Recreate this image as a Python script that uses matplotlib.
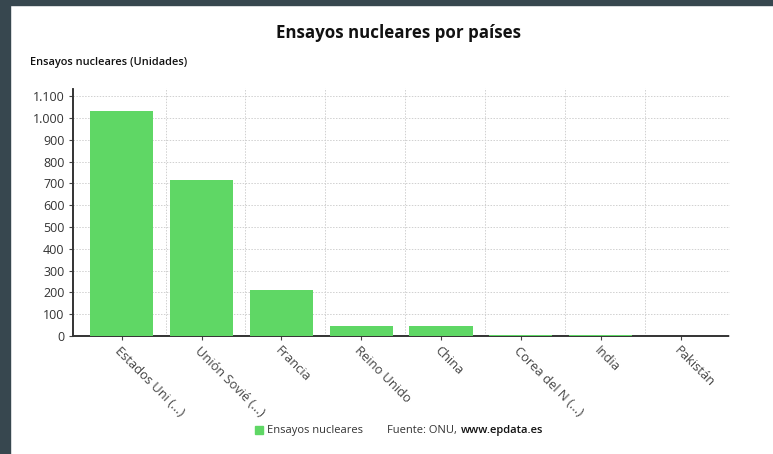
import matplotlib.pyplot as plt
from matplotlib.patches import Rectangle

plt.rcParams['font.family'] = ['Open Sans', 'DejaVu Sans']

paises = ["Estados Uni (...)", "Unión Sovié (...)", "Francia", "Reino Unido",
          "China", "Corea del N (...)", "India", "Pakistán"]
ensayos = [1032, 715, 210, 45, 45, 6, 3, 2]
yticks = [0, 100, 200, 300, 400, 500, 600, 700, 800, 900, 1000, 1100]
ytick_labels = ["0", "100", "200", "300", "400", "500", "600", "700", "800",
                "900", "1.000", "1.100"]

verde = "#5fd765"

fig = plt.figure(figsize=(7.73, 4.54), dpi=100)
# dark frame on left/top
fig.patches.append(Rectangle((0, 0), 10/773, 1, transform=fig.transFigure,
                             color="#37474f", zorder=0))
fig.patches.append(Rectangle((0, 1 - 5/454), 1, 5/454, transform=fig.transFigure,
                             color="#37474f", zorder=0))

ax = fig.add_axes([73/773, 1 - 336/454, (730 - 73)/773, (336 - 88)/454])
x = list(range(len(paises)))
ax.bar(x, ensayos, width=0.79, color=verde, zorder=3)

ax.set_xlim(-0.61, 7.62)
ax.set_ylim(0, 1137)
ax.set_yticks(yticks)
ax.set_yticklabels(ytick_labels, fontsize=9, color="#333333")
ax.set_xticks(x)
ax.set_xticklabels(paises, rotation=-45, ha="left", va="top",
                   rotation_mode="anchor", fontsize=9.3, color="#444444")
ax.tick_params(axis="both", length=3, color="#444444", pad=3)

# grid
for v in yticks[1:]:
    ax.axhline(v, color="#d0d0d0", lw=0.7, ls=(0, (1.5, 1.5)), zorder=1)
for i in range(len(paises) - 1):
    ax.axvline(i + 0.55, color="#d0d0d0", lw=0.7, ls=(0, (1.5, 1.5)), zorder=1)
ax.axvline(7.62, color="#d0d0d0", lw=0.7, ls=(0, (1.5, 1.5)), zorder=1)

for s in ["top", "right"]:
    ax.spines[s].set_visible(False)
for s in ["left", "bottom"]:
    ax.spines[s].set_color("#333333")
    ax.spines[s].set_linestyle((0, (1, 1)))
    ax.spines[s].set_linewidth(1.4)

fig.text(398/773, 1 - 33/454, "Ensayos nucleares por países", ha="center",
         va="center", fontsize=12.2, fontweight="bold", color="#111111")
fig.text(30/773, 1 - 63/454, "Ensayos nucleares (Unidades)", ha="left",
         va="center", fontsize=7.9, fontweight="semibold", color="#111111")

# legend / source
fig.patches.append(Rectangle((255/773, 1 - 434/454), 8/773, 8/454,
                             transform=fig.transFigure, color=verde))
fig.text(267/773, 1 - 430/454, "Ensayos nucleares", ha="left", va="center",
         fontsize=8, color="#333333")
fig.text(387/773, 1 - 430/454, "Fuente: ONU,", ha="left", va="center",
         fontsize=8, color="#333333")
fig.text(461/773, 1 - 430/454, "www.epdata.es", ha="left", va="center",
         fontsize=8, color="#111111", fontweight="semibold")

fig.savefig("out.png", dpi=100)
